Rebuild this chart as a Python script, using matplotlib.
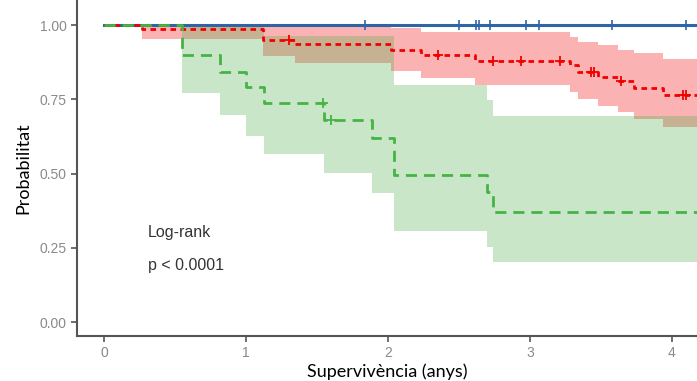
import numpy as np
import matplotlib.pyplot as plt

# blue group: no events
blue_t = [0, 4.4]
blue_s = [1.0, 1.0]
blue_cens = [1.84, 2.50, 2.62, 2.64, 2.72, 2.97, 3.06, 3.58, 4.10]

# red group
red_t = [0, 0.27, 1.12, 1.345, 2.02, 2.23, 2.61, 3.28, 3.34, 3.48, 3.62, 3.73, 3.94, 4.4]
red_s = [1.0, 0.985, 0.949, 0.937, 0.916, 0.899, 0.88, 0.865, 0.843, 0.825, 0.81, 0.788, 0.764, 0.764]
red_up = [1.0, 1.0, 1.0, 1.0, 0.99, 0.975, 0.975, 0.96, 0.943, 0.933, 0.916, 0.906, 0.885, 0.885]
red_lo = [1.0, 0.953, 0.895, 0.872, 0.845, 0.822, 0.798, 0.774, 0.751, 0.727, 0.707, 0.683, 0.657, 0.657]
red_cens_t = [1.30, 2.35, 2.74, 2.94, 3.21, 3.43, 3.45, 3.64, 4.08, 4.10]
red_cens_s = [0.949, 0.899, 0.88, 0.88, 0.88, 0.843, 0.843, 0.81, 0.764, 0.764]

# green group
green_t = [0, 0.55, 0.82, 1.0, 1.13, 1.55, 1.89, 2.04, 2.70, 2.74, 4.4]
green_s = [1.0, 0.899, 0.842, 0.791, 0.737, 0.68, 0.62, 0.495, 0.437, 0.37, 0.37]
green_up = [1.0, 1.0, 1.0, 1.0, 0.963, 0.963, 0.963, 0.798, 0.747, 0.694, 0.694]
green_lo = [1.0, 0.771, 0.697, 0.626, 0.566, 0.502, 0.434, 0.306, 0.253, 0.202, 0.202]
green_cens_t = [1.54, 1.60]
green_cens_s = [0.737, 0.68]

y_ticks = [0.0, 0.25, 0.5, 0.75, 1.0]
y_ticklabels = ["0.00", "0.25", "0.50", "0.75", "1.00"]
x_ticks = [0, 1, 2, 3, 4]

c_blue = "#2F64A6"
c_red = "#F20000"
c_green = "#45B445"

fig = plt.figure(figsize=(6.97, 3.81), dpi=100)
ax = fig.add_axes([77 / 697, 45 / 381, 1 - 77 / 697, 1 - 45 / 381])

# confidence bands (red first, green over it gives the brown overlap)
ax.fill_between(red_t, red_lo, red_up, step="post", color=c_red, alpha=0.3, lw=0)
ax.fill_between(green_t, green_lo, green_up, step="post", color="#4DAF4A", alpha=0.3, lw=0)

ax.step(blue_t, blue_s, where="post", color=c_blue, lw=2.2)
ax.step(red_t, red_s, where="post", color=c_red, lw=2.0, dashes=(2, 1.6))
ax.step(green_t, green_s, where="post", color=c_green, lw=2.0, dashes=(4, 2.5))

ax.plot(blue_cens, [1.0] * len(blue_cens), ls="none", marker="|", ms=7, mew=1.2, color=c_blue)
ax.plot(red_cens_t, red_cens_s, ls="none", marker="+", ms=7, mew=1.3, color=c_red)
ax.plot(green_cens_t, green_cens_s, ls="none", marker="+", ms=7, mew=1.3, color=c_green)

ax.text(0.31, 0.30, "Log-rank", fontsize=11.5, color="#333333", va="center",
        family="Liberation Sans")
ax.text(0.31, 0.19, "p < 0.0001", fontsize=11.5, color="#333333", va="center",
        family="Liberation Sans")

ax.set_xlim(-0.19, (697 - 104) / 142)
ax.set_ylim(-0.047, 1 + 25 / 297)
ax.set_xticks(x_ticks)
ax.set_yticks(y_ticks)
ax.set_yticklabels(y_ticklabels)
ax.tick_params(colors="#555555", labelcolor="#8A8A8A", labelsize=10, length=4, width=1.2)
for lab in ax.get_xticklabels() + ax.get_yticklabels():
    lab.set_family("Liberation Sans")

ax.spines["top"].set_visible(False)
ax.spines["right"].set_visible(False)
ax.spines["left"].set_color("#555555")
ax.spines["bottom"].set_color("#555555")
ax.spines["left"].set_linewidth(1.5)
ax.spines["bottom"].set_linewidth(1.5)

ax.set_xlabel("Supervivència (anys)", fontsize=13, family="Lato", labelpad=2)
ax.set_ylabel("Probabilitat", fontsize=13, family="Lato", labelpad=6)

fig.savefig("out.png", dpi=100)
